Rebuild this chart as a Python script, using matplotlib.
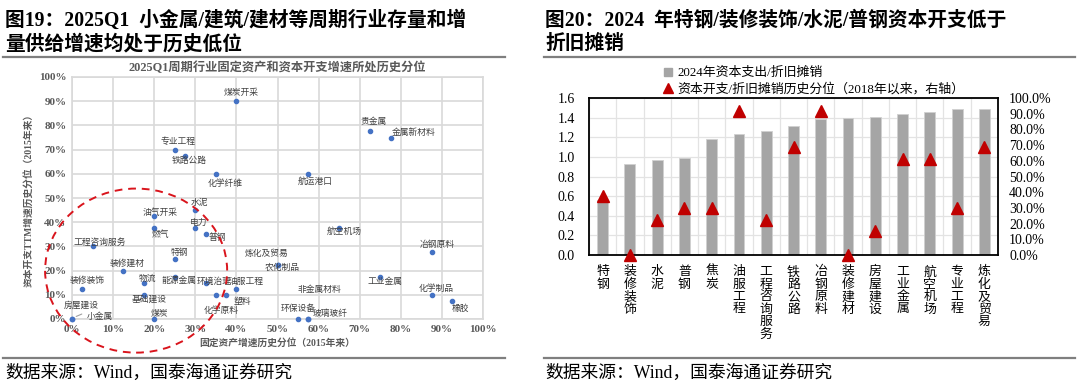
import matplotlib
matplotlib.use("Agg")
import matplotlib.pyplot as plt
from matplotlib.patches import Ellipse
from matplotlib.lines import Line2D
import numpy as np

FONT = ["Liberation Serif", "Noto Sans CJK SC"]
plt.rcParams["font.family"] = FONT

# ---- left panel data: (fixed-asset pct, capex TTM pct) ----
ind_names = ["煤炭开采", "专业工程", "铁路公路", "化学纤维", "贵金属", "金属新材料",
             "航运港口", "水泥", "油气开采", "燃气", "电力", "普钢", "工程咨询服务",
             "特钢", "装修建材", "装修装饰", "物流", "能源金属", "环境治理", "油服工程",
             "基础建设", "化学原料", "塑料", "煤炭", "房屋建设", "小金属", "航空机场",
             "冶钢原料", "炼化及贸易", "农化制品", "非金属材料", "工业金属", "化学制品",
             "橡胶", "环保设备", "玻璃玻纤"]
fa_pct = [40, 25, 27.5, 35, 72.5, 77.5, 57.5, 30, 20, 20, 30, 32.5, 5,
          25, 12.5, 2.5, 17.5, 25, 32.5, 40, 17.5, 35, 37.5, 20, 0, 0, 65,
          87.5, 50, 50, 57.5, 75, 87.5, 92.5, 55, 57.5]
capex_pct = [90, 70, 67.5, 60, 77.5, 75, 60, 45, 42.5, 37.5, 37.5, 35, 30,
             25, 20, 12.5, 15, 17.5, 15, 12.5, 10, 10, 10, 0, 0, 0, 37.5,
             27.5, 22.5, 22.5, 0, 17.5, 10, 7.5, 0, 0]

# label offsets in pixels (dx, dy up), layout only
label_off = {
    "煤炭开采": (5, 8), "专业工程": (3, 8), "铁路公路": (4, -5), "化学纤维": (9, -10),
    "贵金属": (4, 10), "金属新材料": (23, 5), "航运港口": (7, -8), "水泥": (4, 7),
    "油气开采": (6, 4), "燃气": (6, -6), "电力": (3, 5), "普钢": (12, -3),
    "工程咨询服务": (7, 4), "特钢": (5, 6), "装修建材": (4, 7), "装修装饰": (5, 8),
    "物流": (4, 4), "能源金属": (4, -4), "环境治理": (9, 1), "油服工程": (10, 7),
    "基础建设": (5, -5), "化学原料": (5, -16), "塑料": (16, -7), "煤炭": (5, 5),
    "房屋建设": (9, 14), "小金属": (28, 2), "航空机场": (5, -3), "冶钢原料": (6, 8),
    "炼化及贸易": (-11, 11), "农化制品": (5, -3), "非金属材料": (11, 29),
    "工业金属": (5, -5), "化学制品": (5, 6), "橡胶": (8, -8), "环保设备": (0, 10),
    "玻璃玻纤": (22, 5),
}

# ---- right panel data ----
bar_cats = ["特钢", "装修装饰", "水泥", "普钢", "焦炭", "油服工程", "工程咨询服务",
            "铁路公路", "冶钢原料", "装修建材", "房屋建设", "工业金属", "航空机场",
            "专业工程", "炼化及贸易"]
capex_dep = [0.56, 0.93, 0.97, 0.99, 1.18, 1.23, 1.26, 1.31, 1.39, 1.40, 1.41,
             1.44, 1.46, 1.485, 1.485]
hist_pct = [37.5, 0, 22.5, 30, 30, 92, 22.5, 68.5, 92, 0, 15, 61, 61, 30, 68.5]

W, H = 1080, 388
fig = plt.figure(figsize=(W / 100, H / 100), dpi=100)

def fx(px):
    return px / W

def fy(py):
    return 1 - py / H

# titles, rules, sources
title_kw = dict(fontsize=14.2, fontweight="bold", color="black", va="center", ha="left")
fig.text(fx(5), fy(21), "图19：2025Q1  小金属/建筑/建材等周期行业存量和增", **title_kw)
fig.text(fx(5), fy(44), "量供给增速均处于历史低位", **title_kw)
fig.text(fx(545), fy(21), "图20：2024  年特钢/装修装饰/水泥/普钢资本开支低于", **title_kw)
fig.text(fx(545), fy(44), "折旧摊销", **title_kw)
for x0, x1 in [(3, 505), (544, 1075)]:
    for yy in (57, 358):
        fig.add_artist(Line2D([fx(x0), fx(x1)], [fy(yy), fy(yy)], color="#7F7F7F", lw=1.6))
fig.text(fx(5), fy(373), "数据来源：Wind，国泰海通证券研究", fontsize=12.8, va="center")
fig.text(fx(545), fy(373), "数据来源：Wind，国泰海通证券研究", fontsize=12.8, va="center")

# ---- left scatter ----
ax = fig.add_axes([fx(72), fy(319), fx(483 - 72), fy(77) - fy(319)])
ax.set_xlim(0, 100)
ax.set_ylim(0, 100)
ax.set_xticks(np.arange(0, 101, 10))
ax.set_yticks(np.arange(0, 101, 10))
ax.set_xticklabels([f"{v}%" for v in range(0, 101, 10)])
ax.set_yticklabels([f"{v}%" for v in range(0, 101, 10)])
ax.grid(True, color="#D9D9D9", lw=1.2)
ax.set_axisbelow(True)
for s in ax.spines.values():
    s.set_color("#D9D9D9")
    s.set_linewidth(1.2)
ax.tick_params(length=0, labelsize=8, labelcolor="#595959", pad=4)
for lab in ax.get_xticklabels() + ax.get_yticklabels():
    lab.set_fontweight("bold")
ax.scatter(fa_pct, capex_pct, s=9, color="#4472C4", zorder=3, clip_on=False)
for n, xv, yv in zip(ind_names, fa_pct, capex_pct):
    dx, dy = label_off[n]
    ax.annotate(n, (xv, yv), xytext=(dx, dy), textcoords="offset pixels",
                ha="center", va="center", fontsize=6.3, color="#404040", zorder=4)
ax.annotate("", xy=(0.4, 0.6), xytext=(3.0, 2.5),
            arrowprops=dict(arrowstyle="-", color="#A0A0A0", lw=0.8))
ax.set_title("2025Q1周期行业固定资产和资本开支增速所处历史分位", fontsize=8.8,
             fontweight="bold", color="#595959", pad=4)
ax.set_xlabel("固定资产增速历史分位（2015年来）", fontsize=7, color="#595959",
              fontweight="bold", labelpad=3)
ax.set_ylabel("资本开支TTM增速历史分位（2015年来）", fontsize=7, color="#595959",
              fontweight="bold", labelpad=4)
ell = Ellipse((15.6, 20), 44.3, 67.8, fill=False, edgecolor="#D9141C", lw=1.4,
              ls=(0, (4, 3)), clip_on=False, zorder=5)
ax.add_patch(ell)

# ---- right bar + triangle chart ----
bx = fig.add_axes([fx(589), fy(255), fx(998 - 589), fy(98) - fy(255)])
xs = np.arange(len(bar_cats))
bx.bar(xs, capex_dep, width=0.4, color="#A5A5A5", edgecolor="#D0D0D0", lw=0.6,
       zorder=2, label="2024年资本支出/折旧摊销")
bx.set_xlim(-0.5, len(bar_cats) - 0.5)
bx.set_ylim(0, 1.6)
bx.set_yticks(np.arange(0, 1.61, 0.2))
bx.set_yticklabels([f"{v:.1f}" for v in np.arange(0, 1.61, 0.2)])
bx.set_xticks(xs)
bx.set_xticklabels(["\n".join(c) for c in bar_cats], va="top", linespacing=1.05)
bx.tick_params(axis="x", length=0, labelsize=9.3, pad=8)
bx.tick_params(axis="y", length=0, labelsize=10, pad=10)
bx.set_xticks(np.arange(-0.5, len(bar_cats), 1), minor=True)
bx.grid(True, which="minor", axis="x", color="#E3E3E3", lw=0.9)
bx.grid(True, which="major", axis="y", color="#E3E3E3", lw=0.9)
bx.tick_params(which="minor", length=0)
for s in bx.spines.values():
    s.set_color("black")
    s.set_linewidth(1.3)

bx2 = bx.twinx()
bx2.set_ylim(0, 100)
bx2.set_yticks(np.arange(0, 101, 10))
bx2.set_yticklabels([f"{v:.1f}%" for v in np.arange(0, 101, 10)])
bx2.tick_params(axis="y", length=0, labelsize=10, pad=8)
bx2.plot(xs, hist_pct, ls="none", marker="^", ms=8, color="#C00000", clip_on=False,
         zorder=4, label="资本开支/折旧摊销历史分位（2018年以来，右轴）")
for s in bx2.spines.values():
    s.set_visible(False)
bx.set_zorder(1)
bx2.set_zorder(2)

handles = [Line2D([], [], ls="none", marker="s", ms=6, color="#A5A5A5"),
           Line2D([], [], ls="none", marker="^", ms=7, color="#C00000")]
fig.legend(handles, ["2024年资本支出/折旧摊销", "资本开支/折旧摊销历史分位（2018年以来，右轴）"],
           loc="upper left", bbox_to_anchor=(fx(654), fy(58)), frameon=False,
           fontsize=9.3, handlelength=0.8, handletextpad=0.3, labelspacing=0.3,
           borderpad=0.2)

fig.savefig("out.png", dpi=100, facecolor="white")
